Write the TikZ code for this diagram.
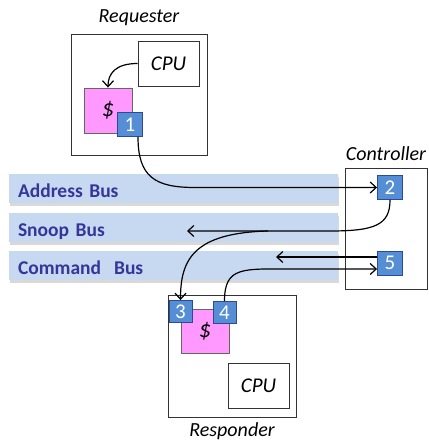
\documentclass[tikz,border=0pt]{standalone}
\usepackage{fontspec}
\setmainfont{Carlito}
\usepackage{tikz}
\usetikzlibrary{arrows.meta,shadows,positioning}

\definecolor{busfill}{HTML}{C6D9F1}
\definecolor{bustext}{HTML}{36369A}
\definecolor{numfill}{HTML}{558ED5}
\definecolor{numdraw}{HTML}{2A4A9A}
\definecolor{cachefill}{HTML}{FF99FF}

\begin{document}
\begin{tikzpicture}[x=1pt,y=-1pt,>={Straight Barb[length=6pt,width=11pt]},line width=1.2pt]
\tikzstyle{box}=[draw=black!80,line width=0.9pt,inner sep=0pt]
\tikzstyle{cpu}=[box,fill=white,minimum width=61pt,minimum height=45pt,font=\fontsize{21}{24}\selectfont\itshape]
\tikzstyle{cache}=[box,draw=black!60,fill=cachefill,minimum width=48pt,minimum height=45pt,font=\fontsize{24}{27}\selectfont\itshape]
\tikzstyle{num}=[draw=numdraw,line width=0.9pt,fill=numfill,text=white,inner sep=0pt,minimum width=25pt,minimum height=24pt,font=\fontsize{21}{24}\selectfont]
\tikzstyle{bus}=[fill=busfill,drop shadow={shadow xshift=1pt,shadow yshift=-2.5pt,fill=black!25,opacity=0.6},text width=311pt,text height=17pt,text depth=0pt,inner xsep=9pt,inner ysep=0pt,minimum height=29pt,align=left,text=bustext,font=\fontsize{19.5}{22}\selectfont\bfseries]
\tikzstyle{lbl}=[inner sep=0pt,font=\fontsize{20}{23}\selectfont\itshape]
\useasboundingbox (0,0) rectangle (428,441);

% requester
\node[box,minimum width=136pt,minimum height=121pt] (Req) at (139,94.5) {};
\node[lbl,above=7pt of Req] {Requester};
\node[cpu] (ReqCPU) at (168.5,63.5) {CPU};
\node[cache] (ReqC) at (108,110.5) {\$};
\node[num] (N1) at (130,124.5) {1};

% buses
\node[bus] (AB) at (173.5,188.5) {Address Bus};
\node[bus] (SB) at (173.5,227.5) {Snoop Bus};
\node[bus] (CB) at (173.5,265.5) {Command~ Bus};

% controller
\node[box,minimum width=82pt,minimum height=121pt] (Ctl) at (386,228.5) {};
\node[lbl,above=6pt of Ctl] {Controller};
\node[num] (N2) at (390,187.5) {2};
\node[num] (N5) at (390,263) {5};

% responder
\node[box,minimum width=128pt,minimum height=122pt] (Resp) at (232,356) {};
\node[lbl,below=5pt of Resp] {Responder};
\node[cache,minimum height=44pt] (RespC) at (205,331) {\$};
\node[num,minimum width=23pt,minimum height=22pt] (N3) at (180.5,311.5) {3};
\node[num,minimum width=23pt,minimum height=22pt] (N4) at (224.5,312.5) {4};
\node[cpu] (RespCPU) at (258.5,385.5) {CPU};

\coordinate (SnoopEnd) at (187,231);
\coordinate (SnoopTap) at (268,231);
\coordinate (CmdEnd) at (276,257);

\draw[->] (ReqCPU.west) .. controls +(-22,0) and +(0,-14) .. (ReqC.north);
\draw[->] ([xshift=8pt]N1.south) .. controls +(0,40) and +(-40,0) .. (195,187.5) -- (N2.west);
\draw[->] (N2.south) .. controls +(0,25) and +(45,0) .. (330,231) -- (SnoopEnd);
\draw[->] (SnoopTap) .. controls +(-75,2) and +(0,-40) .. (N3.north);
\draw[->] ([yshift=6pt]N5.west) -- (CmdEnd);
\draw[->] (N4.north) .. controls +(0,-35) and +(-50,0) .. (293,269) -- ([yshift=-6pt]N5.west);
\end{tikzpicture}
\end{document}
